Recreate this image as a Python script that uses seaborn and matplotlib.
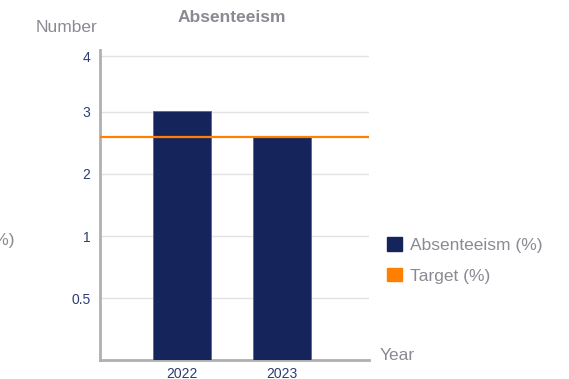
import numpy as np
import pandas as pd
import matplotlib
matplotlib.use("Agg")
import matplotlib.pyplot as plt
from matplotlib.patches import Patch
import seaborn as sns

# Data
years = ["2022", "2023"]
absenteeism = [3.02, 2.62]
target = [2.6]
y_ticks = [0.5, 1, 2, 3, 4]

NAVY = "#16245c"
ORANGE = "#ff8000"
GREY_TXT = "#8a8a92"
TICK_TXT = "#2e3c74"

sns.set_theme(style="white")
plt.rcParams["font.family"] = ["Liberation Sans", "DejaVu Sans"]

df = pd.DataFrame({"Year": years, "Absenteeism (%)": absenteeism})

fig = plt.figure(figsize=(5.69, 3.79), dpi=100)
ax = fig.add_axes([0.1757, 0.0501, 0.4728, 0.818])

# Evenly spaced value axis: each labelled tick takes one step
knots_v = np.array([0.0, 0.5, 1.0, 2.0, 3.0, 4.0, 5.0])
knots_p = np.array([0.0, 1.0, 2.0, 3.0, 4.0, 4.9, 5.9])


def fwd(v):
    return np.interp(v, knots_v, knots_p)


def inv(p):
    return np.interp(p, knots_p, knots_v)


ax.set_yscale("function", functions=(fwd, inv))

sns.barplot(data=df, x="Year", y="Absenteeism (%)", color=NAVY, width=0.58,
            saturation=1, ax=ax, zorder=3, edgecolor="#5a6496", linewidth=0.6)

ax.axhline(target[0], color=ORANGE, lw=1.6, zorder=4)

ax.set_xlim(-0.82, 1.87)
ax.set_ylim(0, 4.1)
ax.set_yticks(y_ticks)
ax.set_yticklabels([f"{t:g}" for t in y_ticks])
ax.yaxis.grid(True, color="#e2e2e2", lw=1.0, zorder=0)
ax.set_axisbelow(True)

ax.tick_params(axis="both", length=0, labelsize=10, colors=TICK_TXT)
ax.tick_params(axis="y", pad=7)
ax.tick_params(axis="x", pad=5)
ax.set_xlabel("")
ax.set_ylabel("")

for side in ["top", "right"]:
    ax.spines[side].set_visible(False)
for side in ["left", "bottom"]:
    ax.spines[side].set_color("#b0b0b4")
    ax.spines[side].set_linewidth(2)

fig.text(232 / 569, 1 - 18 / 379, "Absenteeism", ha="center", va="center",
         fontsize=12.5, fontweight="bold", color=GREY_TXT)
fig.text(97 / 569, 1 - 27 / 379, "Number", ha="right", va="center",
         fontsize=12.5, color=GREY_TXT)
fig.text(380 / 569, 1 - 355 / 379, "Year", ha="left", va="center",
         fontsize=12.5, color=GREY_TXT)
fig.text(15 / 569, 1 - 240 / 379, "Absenteeism (%)", ha="right", va="center",
         fontsize=12.5, color=GREY_TXT)

handles = [Patch(facecolor=NAVY, edgecolor=NAVY, label="Absenteeism (%)"),
           Patch(facecolor=ORANGE, edgecolor=ORANGE, label="Target (%)")]
leg = fig.legend(handles=handles, loc="upper left",
                 bbox_to_anchor=(380 / 569, 1 - 230 / 379), frameon=False,
                 fontsize=12.5, handlelength=0.85, handleheight=0.85,
                 handletextpad=0.5, labelspacing=0.85, borderaxespad=0)
for t in leg.get_texts():
    t.set_color(GREY_TXT)

fig.savefig("out.png", dpi=100, facecolor="white")
